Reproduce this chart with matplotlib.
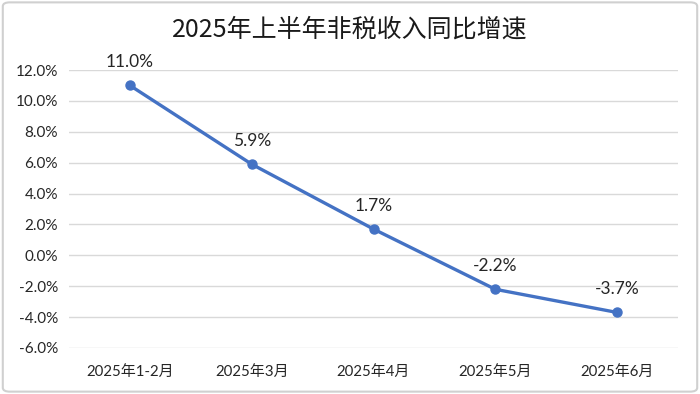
import matplotlib
matplotlib.use("Agg")
import matplotlib.pyplot as plt
from matplotlib.patches import FancyBboxPatch

plt.rcParams['font.family'] = ['Lato', 'Noto Sans CJK SC', 'DejaVu Sans']

categories = ["2025年1-2月", "2025年3月", "2025年4月", "2025年5月", "2025年6月"]
values = [11.0, 5.9, 1.7, -2.2, -3.7]
yticks = [-6, -4, -2, 0, 2, 4, 6, 8, 10, 12]
title = "2025年上半年非税收入同比增速"

fig = plt.figure(figsize=(7, 3.94), dpi=100)
ax = fig.add_axes([0.0986, 0.1168, 0.87, 0.7055])

x = list(range(len(categories)))
ax.plot(x, values, color="#4472C4", linewidth=2.4, marker="o", markersize=6.5)
for xi, v in zip(x, values):
    ax.annotate(f"{v:.1f}%", (xi, v), xytext=(0, 11), textcoords="offset points",
                ha="center", va="bottom", fontsize=12.5, color="#262626")

ax.set_xlim(-0.5, len(categories) - 0.5)
ax.set_ylim(-6, 12)
ax.set_yticks(yticks)
ax.set_yticklabels([f"{t:.1f}%" for t in yticks], fontsize=11, color="#262626")
ax.set_xticks(x)
ax.set_xticklabels(categories, fontsize=10.8, color="#262626")
ax.tick_params(length=0, pad=8)
ax.tick_params(axis="x", pad=12)
ax.grid(axis="y", color="#d9d9d9", linewidth=1)
ax.set_axisbelow(True)
for s in ax.spines.values():
    s.set_visible(False)

fig.text(0.5, 0.925, title, ha="center", va="center", fontsize=18, color="#1a1a1a",
         family=['Noto Sans CJK SC', 'DejaVu Sans'])

border = FancyBboxPatch((0.004, 0.006), 0.992, 0.988, boxstyle="round,pad=0,rounding_size=0.01",
                        transform=fig.transFigure, fill=False, edgecolor="#d0d0d0", linewidth=1.5)
fig.patches.append(border)

fig.savefig("out.png", dpi=100)
